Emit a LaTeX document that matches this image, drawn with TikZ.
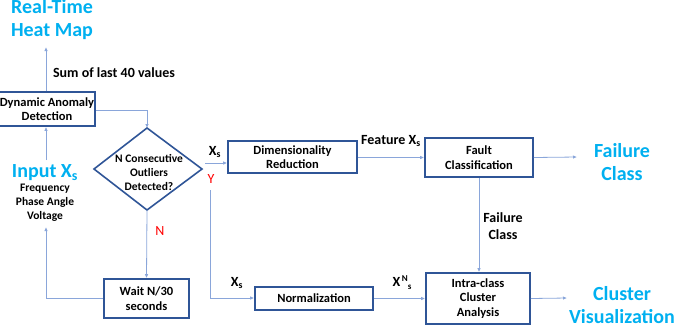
\documentclass[tikz,border=0pt]{standalone}
\usepackage{fontspec}
\setmainfont{Carlito}
\usetikzlibrary{arrows.meta}
\definecolor{cyanT}{HTML}{00B0F0}
\definecolor{boxB}{HTML}{2F5597}
\definecolor{lineB}{HTML}{8AA6DA}
\definecolor{redT}{HTML}{FF0000}
\begin{document}
\begin{tikzpicture}[x=1pt,y=-1pt,
  box/.style={draw=boxB,line width=1.6pt,fill=white,inner sep=1pt,align=center,
    font=\fontsize{12.5}{14.5}\selectfont\bfseries},
  lbl/.style={inner sep=0pt,align=center,font=\fontsize{14}{17}\selectfont\bfseries},
  big/.style={inner sep=0pt,align=center,text=cyanT,font=\fontsize{20}{23}\selectfont\bfseries},
  redl/.style={inner sep=0pt,text=redT,font=\fontsize{14}{15}\selectfont},
  conn/.style={draw=lineB,line width=0.8pt},
  arr/.style={conn,-{Latex[length=4pt,width=3.5pt]}}]
\useasboundingbox (0,0) rectangle (676,333);
% boxes
\node[box,minimum width=92pt,minimum height=34pt] (dad) at (47,109) {Dynamic Anomaly\\Detection};
\node[box,minimum width=85pt,minimum height=39pt] (wait) at (146.5,298.5) {Wait N/30\\seconds};
\node[box,minimum width=129pt,minimum height=32pt] (dim) at (292.5,157) {Dimensionality\\Reduction};
\node[box,minimum width=108pt,minimum height=39pt] (fault) at (479,157.5) {Fault\\Classification};
\node[box,minimum width=118pt,minimum height=23pt] (norm) at (314,298.5) {Normalization};
\node[box,minimum width=104pt,minimum height=51pt] (intra) at (478,298.5) {Intra-class\\Cluster\\Analysis};
% diamond
\coordinate (dT) at (147,128);
\coordinate (dB) at (147,210);
\coordinate (dL) at (94,169);
\coordinate (dR) at (202,169);
\draw[boxB,line width=1.6pt,line join=miter] (dT) -- (dR) -- (dB) -- (dL) -- cycle;
\node[inner sep=0pt,align=center,font=\fontsize{11.5}{14}\selectfont\bfseries] (dia) at (149,172) {N Consecutive\\Outliers\\Detected?};
% outer labels
\node[big] (heat) at (52,20) {Real-Time\\Heat Map};
\node[lbl] (sum) at (114,73) {Sum of last 40 values};
\node[big] (inp) at (45,173) {Input X\textsubscript{s}};
\node[lbl,font=\fontsize{11.5}{14}\selectfont\bfseries] (inpsub) at (45,203) {Frequency\\Phase Angle\\Voltage};
\node[big] (fail) at (622,162) {Failure\\Class};
\node[big] (clus) at (622,305) {Cluster\\Visualization};
\node[lbl] (xs1) at (215,152) {X\textsubscript{s}};
\node[redl] (yl) at (211,179) {Y};
\node[redl] (nl) at (160,231) {N};
\node[lbl] (xs2) at (237,283) {X\textsubscript{s}};
\node[lbl] (xn) at (402,283) {X\raisebox{5pt}{\fontsize{9}{9}\selectfont\,N}\raisebox{-3pt}{\fontsize{9}{9}\selectfont s}};
\node[lbl] (feat) at (391,141) {Feature X\textsubscript{s}};
\node[lbl] (fcl) at (503,226) {Failure\\Class};
% connector coordinates
\coordinate (hb) at (46,47);
\coordinate (c1) at (147,110);
\coordinate (w1) at (46,298);
\coordinate (ib) at (46,227);
\coordinate (it) at (46,160);
\coordinate (ys) at (205,163);
\coordinate (yv) at (210,190);
\coordinate (yc) at (210,298);
\coordinate (fe) at (577,157);
\coordinate (ce) at (567,298);
% connectors
\draw[arr] (dad.north -| hb) -- (hb);
\draw[arr] (dad.east |- c1) -- (c1) -- (dT);
\draw[arr] (dB) -- (wait.north);
\draw[arr] (wait.west |- w1) -- (w1) -- (ib);
\draw[arr] (it) -- (dad.south -| it);
\draw[arr] (ys) -- (dim.west |- ys);
\draw[arr] (yv) -- (yc) -- (norm.west |- yc);
\draw[arr] (norm.east) -- (intra.west |- norm.east);
\draw[arr] (dim.east |- fault.west) -- (fault.west);
\draw[arr] (fault.east) -- (fe);
\draw[arr] (fault.south) -- (intra.north -| fault.south);
\draw[arr] (intra.east) -- (ce);
\end{tikzpicture}
\end{document}
